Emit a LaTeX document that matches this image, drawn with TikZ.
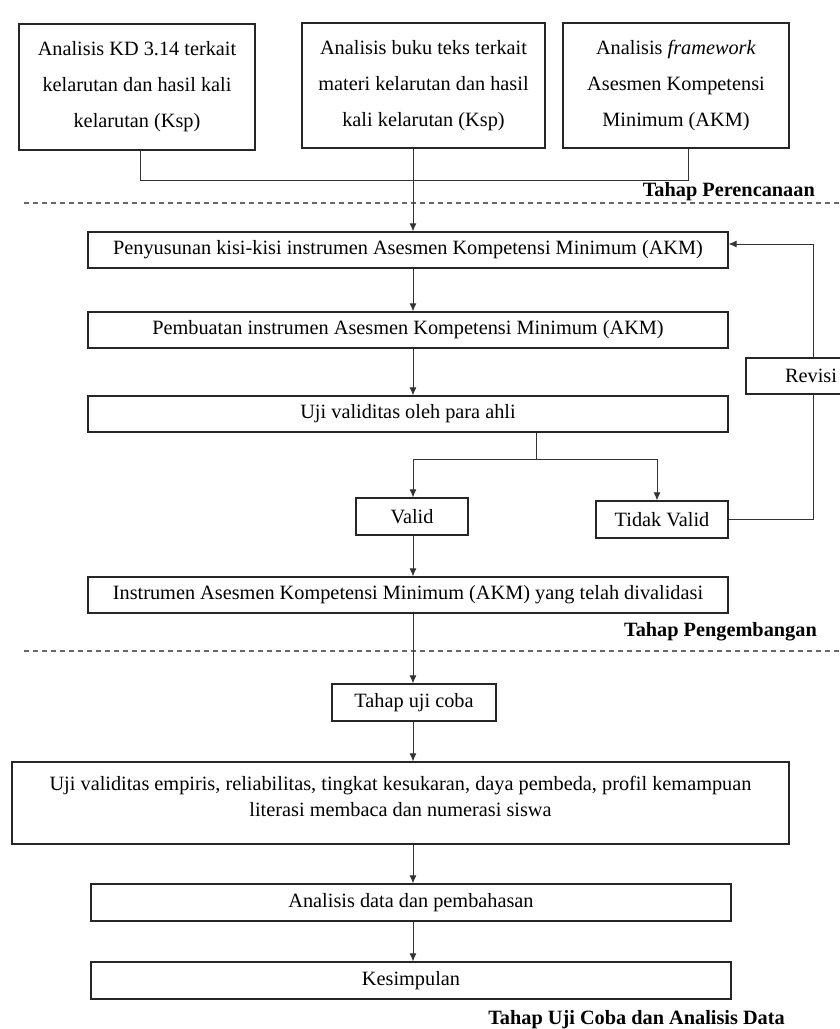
\documentclass[tikz,border=0pt]{standalone}
\usepackage{fontspec}
\setmainfont{Liberation Serif}
\usetikzlibrary{arrows.meta,calc}
\begin{document}
\begin{tikzpicture}[x=1pt,y=-1pt,
  txt/.style={font=\fontsize{20.3}{36}\selectfont},
  box/.style={draw=black!85, line width=1.2pt, inner sep=0pt, align=center, txt},
  wide/.style={box, minimum width=640, minimum height=36},
  arr/.style={line width=1pt, draw=black!80, -{Latex[length=8pt,width=7pt]}},
  ln/.style={line width=1pt, draw=black!80},
  stage/.style={font=\fontsize{20.3}{24}\selectfont\bfseries, anchor=east, inner sep=0pt},
  sep/.style={line width=1.1pt, dash pattern=on 5pt off 4pt, black!60}]
\useasboundingbox (0,0) rectangle (839,1029);

% helper coordinates
\coordinate (col) at (413,0);
\coordinate (hy) at (0,180);
\coordinate (split) at (536,459);
\coordinate (tvx) at (657,0);
\coordinate (rx) at (813,0);
\coordinate (ry) at (0,244);

% planning stage
\node[box, minimum width=236, minimum height=126] (b1) at (137,87) {Analisis KD 3.14 terkait\\kelarutan dan hasil kali\\kelarutan (Ksp)};
\node[box, minimum width=243, minimum height=125] (b2) at (423.5,85.5) {Analisis buku teks terkait\\materi kelarutan dan hasil\\kali kelarutan (Ksp)};
\node[box, minimum width=226, minimum height=125] (b3) at (676,85.5) {Analisis \textit{framework}\\Asesmen Kompetensi\\Minimum (AKM)};

\draw[ln] ([xshift=3pt]b1.south) -- ([xshift=3pt]b1.south |- hy) -- ([xshift=12pt]b3.south |- hy) -- ([xshift=12pt]b3.south);

\node[stage] (s1) at (815,192) {Tahap Perencanaan};
\draw[sep] (24,203) -- (839,203);

% development stage
\node[wide] (p1) at (408,250) {Penyusunan kisi-kisi instrumen Asesmen Kompetensi Minimum (AKM)};
\node[wide] (p2) at (408,330) {Pembuatan instrumen Asesmen Kompetensi Minimum (AKM)};
\node[wide] (p3) at (408,414) {Uji validitas oleh para ahli};
\node[box, minimum width=112, minimum height=37] (va) at (412,516.5) {Valid};
\node[box, minimum width=132, minimum height=37] (tv) at (662,519.5) {Tidak Valid};
\node[box, minimum width=130, minimum height=36] (rv) at (811,376) {Revisi};
\node[wide] (ins) at (408,595) {Instrumen Asesmen Kompetensi Minimum (AKM) yang telah divalidasi};

\draw[arr] (b2.south -| col) -- (p1.north -| col);
\draw[arr] (p1.south -| col) -- (p2.north -| col);
\draw[arr] (p2.south -| col) -- (p3.north -| col);
\draw[ln] (p3.south -| split) -- (split);
\draw[ln] (split -| col) -- (split -| tvx);
\draw[arr] (split -| col) -- (va.north -| col);
\draw[arr] (split -| tvx) -- (tv.north -| tvx);
\draw[ln] (tv.east) -- (tv.east -| rx) -- (rv.south -| rx);
\draw[arr] (rv.north -| rx) -- (rx |- ry) -- (p1.east |- ry);
\draw[arr] (va.south -| col) -- (ins.north -| col);

\node[stage] (s2) at (817,632) {Tahap Pengembangan};
\draw[sep] (24,651) -- (839,651);

% trial and analysis stage
\node[box, minimum width=164, minimum height=37] (tc) at (414,702.5) {Tahap uji coba};
\node[box, minimum width=777, minimum height=82,
  label={[align=center, inner sep=0pt, font=\fontsize{20.3}{26}\selectfont, yshift=7pt]center:Uji validitas empiris, reliabilitas, tingkat kesukaran, daya pembeda, profil kemampuan\\literasi membaca dan numerasi siswa}] (emp) at (400.5,803) {};
\node[wide, minimum height=37] (an) at (411,902.5) {Analisis data dan pembahasan};
\node[wide, minimum height=37] (ks) at (411,980.5) {Kesimpulan};

\draw[arr] (ins.south -| col) -- (tc.north -| col);
\draw[arr] (tc.south -| col) -- (emp.north -| col);
\draw[arr] (emp.south -| col) -- (an.north -| col);
\draw[arr] (an.south -| col) -- (ks.north -| col);

\node[stage] (s3) at (785,1020) {Tahap Uji Coba dan Analisis Data};
\end{tikzpicture}
\end{document}
